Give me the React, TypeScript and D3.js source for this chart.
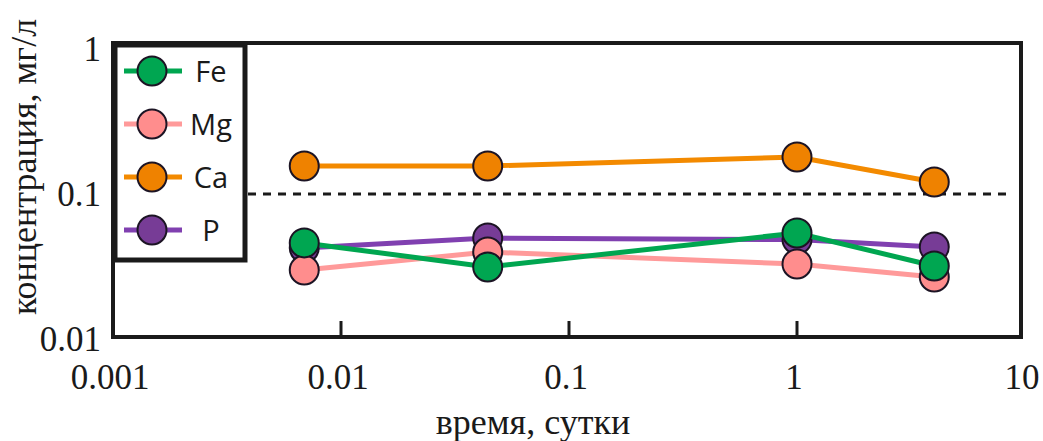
import React, { useEffect, useRef } from "react";
import * as d3 from "d3";

// time, days
const times = [0.0069, 0.044, 1, 4];
// concentration, mg/L
const fe = [0.046, 0.0314, 0.0538, 0.0319];
const mg = [0.0299, 0.0398, 0.0329, 0.0268];
const ca = [0.156, 0.156, 0.18, 0.121];
const p = [0.0424, 0.0497, 0.0485, 0.0431];

const seriesNames = ["Fe", "Mg", "Ca", "P"];
const xTicks = [0.001, 0.01, 0.1, 1, 10];
const yTicks = [0.01, 0.1, 1];
const innerTicks = [0.01, 0.1, 1];
const limit = 0.1;

const W = 1043;
const H = 441;

export default function App() {
  const ref = useRef<SVGSVGElement>(null);

  useEffect(() => {
    const svg = d3.select(ref.current);
    svg.selectAll("*").remove();

    const x = d3.scaleLog().domain([0.001, 10]).range([113, 1025]);
    const y = d3.scaleLog().domain([0.01, 1]).range([339, 49]);
    const frame = { left: 113, right: 1021, top: 43, bottom: 337 };
    const ink = "#1a1a1a";

    const series = [
      { name: "P", values: p, line: "#8040b0", fill: "#773c96" },
      { name: "Mg", values: mg, line: "#ff9a9a", fill: "#ff8d8d" },
      { name: "Ca", values: ca, line: "#f38a00", fill: "#ef8200" },
      { name: "Fe", values: fe, line: "#00a650", fill: "#00a651" },
    ];

    // dashed 0.1 line
    svg.append("line")
      .attr("x1", frame.left).attr("x2", 1013)
      .attr("y1", y(limit)).attr("y2", y(limit))
      .attr("stroke", ink).attr("stroke-width", 3)
      .attr("stroke-dasharray", "8,7");

    const line = d3.line<number>()
      .x((d, i) => x(times[i]))
      .y(d => y(d));

    series.forEach(s => {
      const g = svg.append("g");
      g.append("path")
        .attr("d", line(s.values))
        .attr("fill", "none")
        .attr("stroke", s.line)
        .attr("stroke-width", 5);
      g.selectAll("circle")
        .data(s.values)
        .join("circle")
        .attr("cx", (d, i) => x(times[i]))
        .attr("cy", d => y(d))
        .attr("r", 14.5)
        .attr("fill", s.fill)
        .attr("stroke", "#1c1424")
        .attr("stroke-width", 2);
    });

    // frame
    svg.append("rect")
      .attr("x", frame.left).attr("y", frame.top)
      .attr("width", frame.right - frame.left)
      .attr("height", frame.bottom - frame.top)
      .attr("fill", "none")
      .attr("stroke", ink).attr("stroke-width", 4);

    svg.append("g")
      .selectAll("line")
      .data(innerTicks)
      .join("line")
      .attr("x1", d => x(d)).attr("x2", d => x(d))
      .attr("y1", frame.bottom).attr("y2", frame.bottom - 16)
      .attr("stroke", ink).attr("stroke-width", 3);

    // tick labels
    const serif = "'Liberation Serif', 'Times New Roman', serif";
    svg.append("g")
      .selectAll("text")
      .data(xTicks)
      .join("text")
      .attr("x", d => x(d) - 3)
      .attr("y", 389)
      .attr("text-anchor", "middle")
      .attr("font-family", serif)
      .attr("font-size", 35)
      .attr("fill", ink)
      .text(d => String(d));

    svg.append("g")
      .selectAll("text")
      .data(yTicks)
      .join("text")
      .attr("x", 101)
      .attr("y", d => y(d) + 12)
      .attr("text-anchor", "end")
      .attr("font-family", serif)
      .attr("font-size", 35)
      .attr("fill", ink)
      .text(d => String(d));

    svg.append("text")
      .attr("x", 533).attr("y", 434)
      .attr("text-anchor", "middle")
      .attr("font-family", serif)
      .attr("font-size", 36)
      .attr("fill", ink)
      .text("время, сутки");

    svg.append("text")
      .attr("transform", "translate(36,167) rotate(-90)")
      .attr("text-anchor", "middle")
      .attr("font-family", serif)
      .attr("font-size", 36)
      .attr("fill", ink)
      .text("концентрация, мг/л");

    // legend
    const leg = svg.append("g");
    leg.append("rect")
      .attr("x", 115).attr("y", 45)
      .attr("width", 130).attr("height", 215)
      .attr("fill", "white")
      .attr("stroke", ink).attr("stroke-width", 5);

    const legY = d3.scalePoint().domain(seriesNames).range([71, 230]);
    seriesNames.forEach(name => {
      const s = series.find(d => d.name === name)!;
      const cy = legY(name)!;
      leg.append("line")
        .attr("x1", 124).attr("x2", 182)
        .attr("y1", cy).attr("y2", cy)
        .attr("stroke", s.line).attr("stroke-width", 5);
      leg.append("circle")
        .attr("cx", 152).attr("cy", cy).attr("r", 14.5)
        .attr("fill", s.fill)
        .attr("stroke", "#1c1424").attr("stroke-width", 2);
      leg.append("text")
        .attr("x", 211).attr("y", cy + 11)
        .attr("text-anchor", "middle")
        .attr("font-family", "'Open Sans', sans-serif")
        .attr("font-size", 29)
        .attr("fill", ink)
        .text(name);
    });
  }, []);

  return (
    <svg
      ref={ref}
      width={W}
      height={H}
      style={{ position: "absolute", left: 0, top: 0, background: "white" }}
    />
  );
}
